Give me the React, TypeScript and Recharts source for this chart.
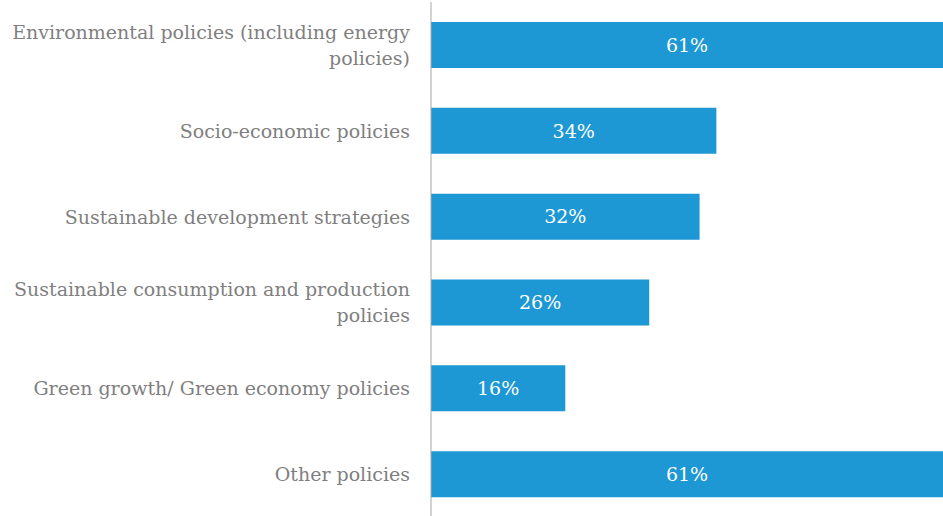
import React from 'react';
import { BarChart, Bar, XAxis, YAxis, LabelList } from 'recharts';

const categories = [
  'Environmental policies (including energy\npolicies)',
  'Socio-economic policies',
  'Sustainable development strategies',
  'Sustainable consumption and production\npolicies',
  'Green growth/ Green economy policies',
  'Other policies',
];

const shares = [61, 34, 32, 26, 16, 61];

const data = categories.map((name, i) => ({ name, value: shares[i] }));

const FONT = '"DejaVu Serif", serif';

const CategoryTick = (props: any) => {
  const { x, y, payload } = props;
  const lines: string[] = String(payload.value).split('\n');
  const lineHeight = 26;
  const startY = y - ((lines.length - 1) * lineHeight) / 2;
  return (
    <text
      x={x}
      y={startY}
      textAnchor="end"
      fill="#7f7f7f"
      fontSize={19}
      fontFamily={FONT}
    >
      {lines.map((line, i) => (
        <tspan key={i} x={x} dy={i === 0 ? 7 : lineHeight}>
          {line}
        </tspan>
      ))}
    </text>
  );
};

export default function App() {
  return (
    <div style={{ position: 'absolute', left: 0, top: 0, background: '#fff' }}>
      <BarChart
        width={943}
        height={516}
        data={data}
        layout="vertical"
        margin={{ top: 2, right: 0, bottom: -1, left: 0 }}
        barSize={46}
      >
        <XAxis type="number" domain={[0, 61]} hide />
        <YAxis
          type="category"
          dataKey="name"
          width={431}
          axisLine={{ stroke: '#a6a6a6', strokeWidth: 1 }}
          tickLine={false}
          tickSize={0}
          tickMargin={21}
          tick={<CategoryTick />}
          interval={0}
        />
        <Bar dataKey="value" fill="#1d98d4" isAnimationActive={false}>
          <LabelList
            dataKey="value"
            position="center"
            formatter={(v: any) => `${v}%`}
            fill="#ffffff"
            fontSize={19}
            fontFamily={FONT}
          />
        </Bar>
      </BarChart>
    </div>
  );
}
